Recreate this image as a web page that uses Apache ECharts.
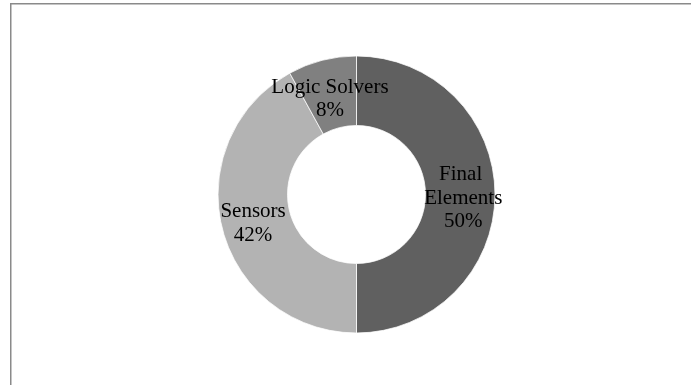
<!DOCTYPE html>
<html>
<head>
<meta charset="utf-8">
<script src="https://cdn.jsdelivr.net/npm/echarts@6/dist/echarts.min.js"></script>
<style>
  html, body { margin: 0; padding: 0; background: #fff; }
  #chart { width: 691px; height: 385px; }
</style>
</head>
<body>
<div id="chart"></div>
<script>
// Share of safety-function failures by subsystem
const categories = ['Final Elements', 'Sensors', 'Logic Solvers'];
const shares = [50, 42, 8];
const sliceColors = ['#606060', '#b3b3b3', '#808080'];
// height of an empty spacer line above each label; nudges the text down in the ring
const labelSpacer = [7, 5, 16];

const chart = echarts.init(document.getElementById('chart'));

const data = categories.map((name, i) => {
  const item = { name: name, value: shares[i], itemStyle: { color: sliceColors[i] } };
  if (name === 'Final Elements') {
    item.label = { width: 84, overflow: 'break' };
  }
  return item;
});

const textStyle = { fontFamily: 'Liberation Serif', fontSize: 21, lineHeight: 23.5, color: '#000' };

chart.setOption({
  animation: false,
  backgroundColor: '#fff',
  graphic: [{
    type: 'rect',
    shape: { x: 10.75, y: 3.75, width: 800, height: 500 },
    style: { fill: 'none', stroke: '#8a8a8a', lineWidth: 1.5 },
    silent: true
  }],
  series: [{
    type: 'pie',
    center: [356.5, 194.5],
    radius: [69, 138.5],
    startAngle: 90,
    clockwise: true,
    avoidLabelOverlap: false,
    itemStyle: { borderColor: '#ffffff', borderWidth: 0.75 },
    label: {
      show: true,
      position: 'inside',
      formatter: p => '{sp' + p.dataIndex + '| }\n' + p.name + '\n' + p.value + '%',
      color: '#000',
      fontFamily: 'Liberation Serif',
      fontSize: 21,
      lineHeight: 23.5,
      align: 'center',
      rich: {
        sp0: { fontSize: 1, lineHeight: labelSpacer[0] },
        sp1: { fontSize: 1, lineHeight: labelSpacer[1] },
        sp2: { fontSize: 1, lineHeight: labelSpacer[2] }
      }
    },
    labelLine: { show: false },
    emphasis: { disabled: true },
    data: data
  }]
});
</script>
</body>
</html>
